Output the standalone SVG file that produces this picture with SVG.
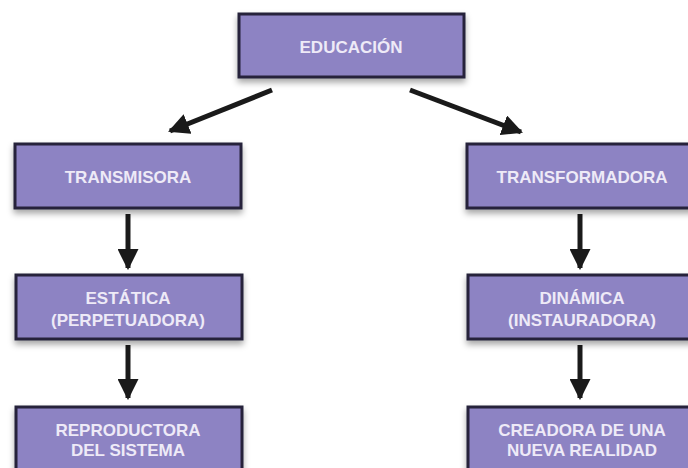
<svg xmlns="http://www.w3.org/2000/svg" width="688" height="468" viewBox="0 0 688 468">
  <defs>
    <filter id="sh" x="-10%" y="-20%" width="120%" height="150%">
      <feDropShadow dx="0" dy="4" stdDeviation="3" flood-color="#000" flood-opacity="0.35"/>
    </filter>
    <marker id="ah" viewBox="0 0 10 10" refX="9" refY="5" markerWidth="4.2" markerHeight="4.2" markerUnits="strokeWidth" orient="auto">
      <path d="M0,0 L10,5 L0,10 Z" fill="#1a1a1a"/>
    </marker>
  </defs>
  <style>
    .box { fill: #8d83c3; stroke: #27213a; stroke-width: 3; filter: url(#sh); }
    .lbl { font-family: "Liberation Sans", Arial, sans-serif; font-weight: bold; font-size: 17px; fill: #eeeaf7; text-anchor: middle; }
    .con { stroke: #1a1a1a; stroke-width: 5; fill: none; marker-end: url(#ah); }
  </style>
  <rect width="688" height="468" fill="#ffffff"/>
  <g id="connectors">
    <line class="con" x1="272" y1="90" x2="170" y2="131"/>
    <line class="con" x1="410" y1="90" x2="521" y2="132"/>
    <line class="con" x1="128" y1="214" x2="128" y2="268"/>
    <line class="con" x1="128" y1="345" x2="128" y2="398"/>
    <line class="con" x1="580" y1="214" x2="580" y2="268"/>
    <line class="con" x1="580" y1="345" x2="580" y2="398"/>
  </g>
  <g id="educacion">
    <rect class="box" x="239" y="14" width="225" height="63"/>
    <text class="lbl" x="351" y="53">EDUCACIÓN</text>
  </g>
  <g id="transmisora">
    <rect class="box" x="15" y="144" width="226" height="64"/>
    <text class="lbl" x="128" y="183">TRANSMISORA</text>
  </g>
  <g id="transformadora">
    <rect class="box" x="467" y="144" width="232" height="64"/>
    <text class="lbl" x="582" y="183">TRANSFORMADORA</text>
  </g>
  <g id="estatica">
    <rect class="box" x="16" y="275" width="226" height="64"/>
    <text class="lbl" x="128" y="304">ESTÁTICA</text>
    <text class="lbl" x="128" y="326">(PERPETUADORA)</text>
  </g>
  <g id="dinamica">
    <rect class="box" x="468" y="275" width="231" height="64"/>
    <text class="lbl" x="582" y="304">DINÁMICA</text>
    <text class="lbl" x="582" y="326">(INSTAURADORA)</text>
  </g>
  <g id="reproductora">
    <rect class="box" x="16" y="407" width="226" height="70"/>
    <text class="lbl" x="128" y="436">REPRODUCTORA</text>
    <text class="lbl" x="128" y="456">DEL SISTEMA</text>
  </g>
  <g id="creadora">
    <rect class="box" x="468" y="407" width="231" height="70"/>
    <text class="lbl" x="582" y="436">CREADORA DE UNA</text>
    <text class="lbl" x="582" y="456">NUEVA REALIDAD</text>
  </g>
</svg>
